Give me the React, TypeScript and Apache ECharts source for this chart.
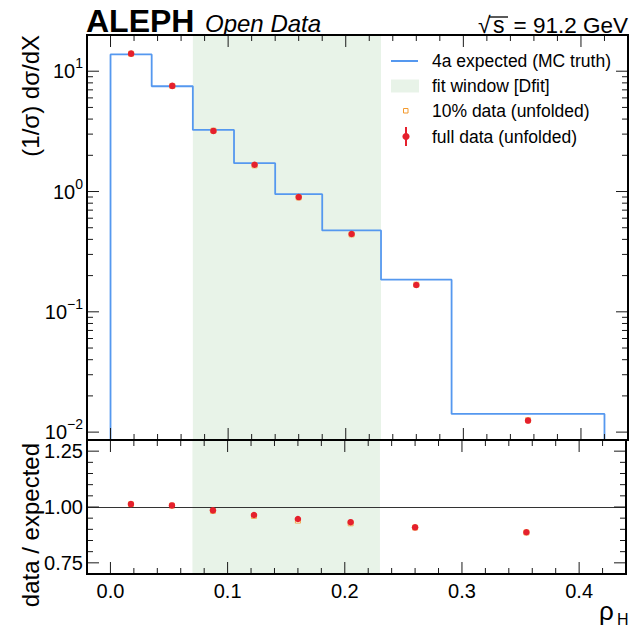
import React, { useEffect, useRef } from 'react';
import * as echarts from 'echarts';

// ---- data ----
const BIN_EDGES = [0, 0.035, 0.07, 0.105, 0.14, 0.18, 0.23, 0.29, 0.42];
const EXPECTED = [13.8, 7.5, 3.25, 1.72, 0.951, 0.475, 0.185, 0.01416];
const BIN_CENTERS = [0.0175, 0.0525, 0.0875, 0.1225, 0.16, 0.205, 0.26, 0.355];
const FULL_DATA = [14.0, 7.55, 3.19, 1.67, 0.899, 0.443, 0.167, 0.01247];
const TENPCT_DATA = [13.97, 7.54, 3.2, 1.65, 0.893, 0.44, 0.168, 0.01255];
const FULL_RATIO = [1.013, 1.007, 0.985, 0.964, 0.946, 0.932, 0.909, 0.887];
const TENPCT_RATIO = [1.012, 1.006, 0.983, 0.96, 0.939, 0.927, 0.908, 0.886];
const FIT_WINDOW = [0.07, 0.23];

const X_RANGE = [-0.02, 0.44];
const Y_RANGE = [0.0086, 20];
const RATIO_RANGE = [0.7, 1.3];

const X_MAJOR_TICKS = [0, 0.1, 0.2, 0.3, 0.4];
const X_MINOR_TICKS = [0.02, 0.04, 0.06, 0.08, 0.12, 0.14, 0.16, 0.18, 0.22, 0.24, 0.26, 0.28, 0.32, 0.34, 0.36, 0.38, 0.42];
const Y_MAJOR_TICKS = [0.01, 0.1, 1, 10];
const Y_MINOR_TICKS = [
  0.02, 0.03, 0.04, 0.05, 0.06, 0.07, 0.08, 0.09,
  0.2, 0.3, 0.4, 0.5, 0.6, 0.7, 0.8, 0.9,
  2, 3, 4, 5, 6, 7, 8, 9,
];
const R_MAJOR_TICKS = [0.75, 1.0, 1.25];
const R_MINOR_TICKS = [0.8, 0.85, 0.9, 0.95, 1.05, 1.1, 1.15, 1.2];

const FONT = "'Liberation Sans', Arial, Helvetica, sans-serif";
const BLUE = '#5598ef';
const GREEN = '#e8f3e8';
const RED = '#e5202d';
const ORANGE = '#f39a2e';

const MAJOR_LEN = 12;
const MINOR_LEN = 6;

function tickRender(params: any, api: any) {
  const cs = params.coordSys;
  const kind = api.value(3);
  const len = api.value(2);
  const style = { stroke: '#1a1a1a', lineWidth: 1 };
  if (kind === 2) {
    return {
      type: 'rect',
      shape: { x: cs.x, y: cs.y, width: cs.width, height: cs.height },
      style: { fill: 'none', stroke: '#000', lineWidth: 2 },
    };
  }
  if (kind === 0) {
    const px = api.coord([api.value(0), 1])[0];
    return {
      type: 'group',
      children: [
        { type: 'line', shape: { x1: px, y1: cs.y, x2: px, y2: cs.y + len }, style },
        { type: 'line', shape: { x1: px, y1: cs.y + cs.height - len, x2: px, y2: cs.y + cs.height }, style },
      ],
    };
  }
  const py = api.coord([0, api.value(1)])[1];
  return {
    type: 'group',
    children: [
      { type: 'line', shape: { x1: cs.x, y1: py, x2: cs.x + len, y2: py }, style },
      { type: 'line', shape: { x1: cs.x + cs.width - len, y1: py, x2: cs.x + cs.width, y2: py }, style },
    ],
  };
}

function tickData(yMajor: number[], yMinor: number[]) {
  const d: number[][] = [];
  X_MAJOR_TICKS.forEach((v) => d.push([v, 1, MAJOR_LEN, 0]));
  X_MINOR_TICKS.forEach((v) => d.push([v, 1, MINOR_LEN, 0]));
  yMajor.forEach((v) => d.push([0, v, MAJOR_LEN, 1]));
  yMinor.forEach((v) => d.push([0, v, MINOR_LEN, 1]));
  d.push([0, 1, 0, 2]);
  return d;
}

export default function App() {
  const ref = useRef<HTMLDivElement>(null);
  useEffect(() => {
    document.body.style.margin = '0';
    const chart = echarts.init(ref.current!, null, { renderer: 'svg' });

    const hist: number[][] = [[BIN_EDGES[0], Y_RANGE[0]]];
    EXPECTED.forEach((v, i) => {
      hist.push([BIN_EDGES[i], v]);
      hist.push([BIN_EDGES[i + 1], v]);
    });
    hist.push([BIN_EDGES[BIN_EDGES.length - 1], Y_RANGE[0]]);

    const fullTop = BIN_CENTERS.map((x, i) => [x, FULL_DATA[i]]);
    const tenTop = BIN_CENTERS.map((x, i) => [x, TENPCT_DATA[i]]);
    const fullRatio = BIN_CENTERS.map((x, i) => [x, FULL_RATIO[i]]);
    const tenRatio = BIN_CENTERS.map((x, i) => [x, TENPCT_RATIO[i]]);

    const isMult = (v: number, step: number) => Math.abs(v / step - Math.round(v / step)) < 1e-6;

    const txt = (x: number, y: number, text: string, extra: any = {}, rot = 0) => ({
      type: 'text',
      x,
      y,
      rotation: rot,
      silent: true,
      style: { text, fontFamily: FONT, fill: '#000', verticalAlign: 'middle', ...extra },
    });

    const option: any = {
      animation: false,
      backgroundColor: '#fff',
      grid: [
        { left: 87, right: 1, top: 35, height: 405 },
        { left: 87, right: 1, top: 440, height: 134 },
      ],
      xAxis: [
        {
          gridIndex: 0, type: 'value', min: X_RANGE[0], max: X_RANGE[1], interval: 0.02,
          axisLine: { show: false }, axisTick: { show: false }, axisLabel: { show: false }, splitLine: { show: false },
        },
        {
          gridIndex: 1, type: 'value', min: X_RANGE[0], max: X_RANGE[1], interval: 0.02,
          axisLine: { show: false }, axisTick: { show: false }, splitLine: { show: false },
          axisLabel: {
            show: true, fontSize: 20, fontFamily: FONT, color: '#000', margin: 7,
            formatter: (v: number) => (isMult(v, 0.1) && v >= 0 && v <= 0.4 + 1e-9 ? v.toFixed(1) : ''),
          },
        },
      ],
      yAxis: [
        {
          gridIndex: 0, type: 'log', logBase: 10, min: Y_RANGE[0], max: Y_RANGE[1],
          axisLine: { show: false }, axisTick: { show: false }, splitLine: { show: false },
          axisLabel: {
            show: true, showMinLabel: false, showMaxLabel: false, margin: 4, color: '#000',
            formatter: (v: number) => {
              const e = Math.log10(v);
              if (Math.abs(e - Math.round(e)) > 1e-6) return '';
              const n = Math.round(e);
              return '{b|10}{s|' + (n < 0 ? '\u2212' + -n : String(n)) + '}';
            },
            rich: {
              b: { fontSize: 20, fontFamily: FONT, color: '#000' },
              s: { fontSize: 14, fontFamily: FONT, color: '#000', padding: [0, 0, 16, 0] },
            },
          },
        },
        {
          gridIndex: 1, type: 'value', min: RATIO_RANGE[0], max: RATIO_RANGE[1], interval: 0.05,
          axisLine: { show: false }, axisTick: { show: false }, splitLine: { show: false },
          axisLabel: {
            show: true, fontSize: 20, fontFamily: FONT, color: '#000', margin: 4,
            formatter: (v: number) => (isMult(v, 0.25) ? v.toFixed(2) : ''),
          },
        },
      ],
      series: [
        {
          name: 'fit window [Dfit]', type: 'line', xAxisIndex: 0, yAxisIndex: 0, z: 1,
          data: [[FIT_WINDOW[0], 1]], symbol: 'none', lineStyle: { opacity: 0 },
          markArea: { silent: true, itemStyle: { color: GREEN }, data: [[{ xAxis: FIT_WINDOW[0] }, { xAxis: FIT_WINDOW[1] }]] },
        },
        {
          name: '4a expected (MC truth)', type: 'line', xAxisIndex: 0, yAxisIndex: 0, z: 3,
          data: hist, symbol: 'none', lineStyle: { color: BLUE, width: 1.8 }, clip: true,
        },
        {
          name: '10% data (unfolded)', type: 'scatter', xAxisIndex: 0, yAxisIndex: 0, z: 4,
          data: tenTop, symbol: 'rect', symbolSize: 5,
          itemStyle: { color: '#fff', borderColor: ORANGE, borderWidth: 1 },
        },
        {
          name: 'full data (unfolded)', type: 'scatter', xAxisIndex: 0, yAxisIndex: 0, z: 5,
          data: fullTop, symbol: 'circle', symbolSize: 6.5, itemStyle: { color: RED, opacity: 1 },
        },
        {
          name: 'fit window ratio', type: 'line', xAxisIndex: 1, yAxisIndex: 1, z: 1,
          data: [[FIT_WINDOW[0], 1]], symbol: 'none', lineStyle: { opacity: 0 },
          markArea: { silent: true, itemStyle: { color: GREEN }, data: [[{ xAxis: FIT_WINDOW[0] }, { xAxis: FIT_WINDOW[1] }]] },
          markLine: {
            silent: true, symbol: ['none', 'none'], label: { show: false },
            lineStyle: { color: '#333', width: 1, type: 'solid' }, data: [{ yAxis: 1 }],
          },
        },
        {
          name: '10% ratio', type: 'scatter', xAxisIndex: 1, yAxisIndex: 1, z: 4,
          data: tenRatio, symbol: 'rect', symbolSize: 5,
          itemStyle: { color: '#fff', borderColor: ORANGE, borderWidth: 1 },
        },
        {
          name: 'full ratio', type: 'scatter', xAxisIndex: 1, yAxisIndex: 1, z: 5,
          data: fullRatio, symbol: 'circle', symbolSize: 6.5, itemStyle: { color: RED, opacity: 1 },
        },
        {
          name: 'ticks top', type: 'custom', xAxisIndex: 0, yAxisIndex: 0, z: 10, silent: true, clip: false,
          renderItem: tickRender, data: tickData(Y_MAJOR_TICKS, Y_MINOR_TICKS),
        },
        {
          name: 'ticks ratio', type: 'custom', xAxisIndex: 1, yAxisIndex: 1, z: 10, silent: true, clip: false,
          renderItem: tickRender, data: tickData(R_MAJOR_TICKS, R_MINOR_TICKS),
        },
      ],
      graphic: [
        // header
        txt(86, 20.5, 'ALEPH', { fontSize: 32, fontWeight: 'bold' }),
        txt(205, 23.5, 'Open Data', { fontSize: 24, fontStyle: 'italic' }),
        txt(478, 25, '\u221A', { fontSize: 23 }),
        txt(493, 25, 's', { fontSize: 23 }),
        { type: 'line', silent: true, shape: { x1: 489, y1: 17, x2: 508, y2: 17 }, style: { stroke: '#000', lineWidth: 1.3 } },
        txt(628, 25, '= 91.2 GeV', { fontSize: 22.5, align: 'right' }),
        // legend
        { type: 'line', silent: true, shape: { x1: 391, y1: 61, x2: 418, y2: 61 }, style: { stroke: BLUE, lineWidth: 2 } },
        txt(432, 61, '4a expected (MC truth)', { fontSize: 17.5 }),
        { type: 'rect', silent: true, shape: { x: 391, y: 79.5, width: 28, height: 13 }, style: { fill: GREEN } },
        txt(432, 86, 'fit window [Dfit]', { fontSize: 17.5 }),
        { type: 'rect', silent: true, shape: { x: 403.5, y: 108.5, width: 4.5, height: 4.5 }, style: { fill: '#fff', stroke: ORANGE, lineWidth: 1 } },
        txt(432, 111, '10% data (unfolded)', { fontSize: 17.5 }),
        { type: 'line', silent: true, shape: { x1: 406, y1: 127, x2: 406, y2: 146 }, style: { stroke: RED, lineWidth: 2 } },
        { type: 'circle', silent: true, shape: { cx: 406, cy: 136.5, r: 3.6 }, style: { fill: RED } },
        txt(432, 136.5, 'full data (unfolded)', { fontSize: 17.5 }),
        // axis titles
        txt(30, 35, '(1/\u03C3) d\u03C3/dX', { fontSize: 24, align: 'right' }, Math.PI / 2),
        txt(30, 443, 'data / expected', { fontSize: 24, align: 'right' }, Math.PI / 2),
        txt(599, 611, '\u03C1', { fontSize: 26 }),
        txt(617, 619, 'H', { fontSize: 16 }),
      ],
    };

    chart.setOption(option);
    return () => chart.dispose();
  }, []);
  return <div ref={ref} style={{ width: 629, height: 628 }} />;
}
